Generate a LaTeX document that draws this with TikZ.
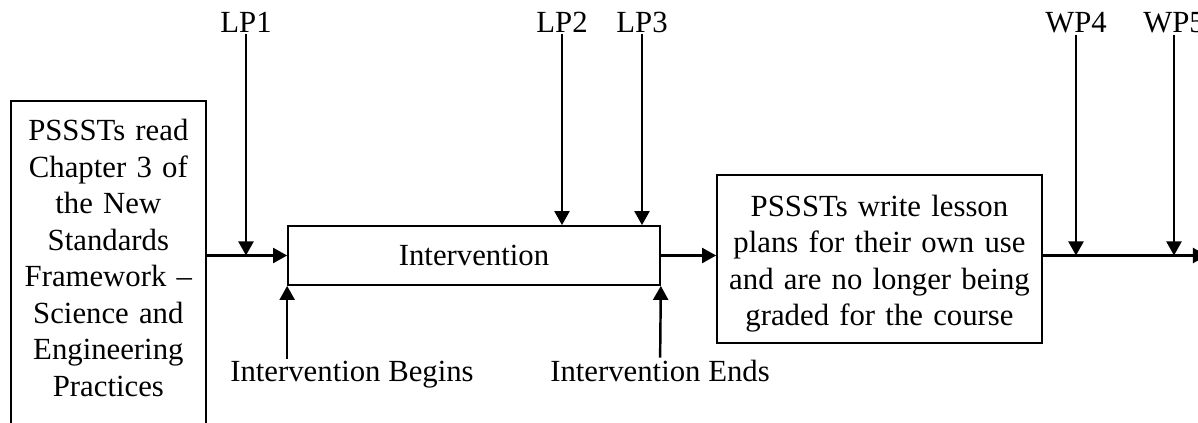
\documentclass[tikz,border=0pt]{standalone}
\usepackage{fontspec}
\setmainfont{Liberation Serif}
\usetikzlibrary{arrows.meta, positioning}

\begin{document}
\begin{tikzpicture}[
    x=0.02cm, y=-0.02cm,
    txt/.style={font=\fontsize{17.5}{20.8}\selectfont},
    box/.style={draw, line width=1pt, txt, align=center},
    lbl/.style={txt, inner sep=1pt},
    arrow/.style={-{Triangle[length=8pt, width=8.5pt]}, line width=1.4pt}
]
    \useasboundingbox (0,0) rectangle (1198,423);

    % Boxes
    \node[box, anchor=north west, text width=3.9cm, inner xsep=0pt, inner ysep=10.5pt] (read) at (10,100)
        {PSSSTs read\\Chapter 3 of\\the New\\Standards\\Framework --\\Science and\\Engineering\\Practices\rule[-30pt]{0pt}{0pt}};
    \node[box, minimum width=7.44cm, minimum height=1.18cm] (intv) at (474,255.5) {Intervention};
    \node[box, minimum width=6.5cm, minimum height=3.36cm, text width=6.3cm, inner xsep=0pt] (plan) at (879.5,259)
        {\rule{0pt}{17.5pt}PSSSTs write lesson\\plans for their own use\\and are no longer being\\graded for the course};

    % Labels
    \node[lbl, anchor=base] (lp1) at (246,32) {LP1};
    \node[lbl, anchor=base] (lp2) at (562,32) {LP2};
    \node[lbl, anchor=base] (lp3) at (642,32) {LP3};
    \node[lbl, anchor=base] (wp4) at (1076,32) {WP4};
    \node[lbl, anchor=base] (wp5) at (1174,32) {WP5};
    \node[lbl, anchor=base] (beg) at (352,381) {Intervention Begins};
    \node[lbl, anchor=base] (ends) at (660,381) {Intervention Ends};
    \coordinate (out) at (1207,255.5);

    % Main line
    \draw[arrow] (read.east |- intv.west) -- (intv.west);
    \draw[arrow] (intv.east) -- (plan.west |- intv.east);
    \draw[arrow] (plan.east |- intv.east) -- (out);

    % Points
    \draw[arrow] (lp1) -- (lp1 |- intv.west);
    \draw[arrow] (lp2) -- (intv.north -| lp2);
    \draw[arrow] (lp3) -- (intv.north -| lp3);
    \draw[arrow] (wp4) -- (wp4 |- out);
    \draw[arrow] (wp5) -- (wp5 |- out);
    \draw[arrow] (beg.north -| intv.south west) -- (intv.south west);
    \draw[arrow] (ends) -- (intv.south east);

\end{tikzpicture}
\end{document}
